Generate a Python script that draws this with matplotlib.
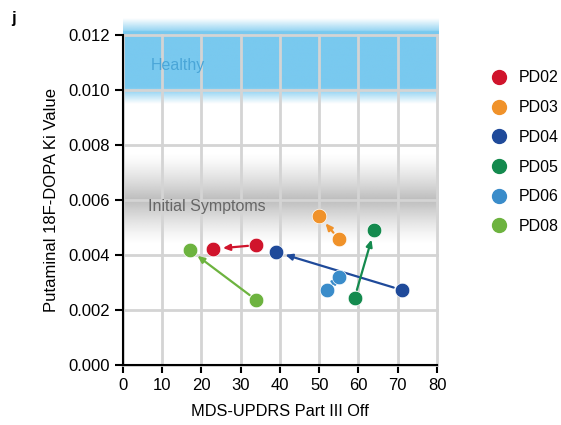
import numpy as np
import matplotlib
matplotlib.use("Agg")
import matplotlib.pyplot as plt
from matplotlib.colors import to_rgb

plt.rcParams['font.family'] = ['Liberation Sans', 'DejaVu Sans']

patients = ["PD02", "PD03", "PD04", "PD05", "PD06", "PD08"]
colors = ["#d0142c", "#f0922a", "#1f4a9a", "#148a4e", "#3a8cca", "#6db33f"]
score_start = [34, 55, 71, 59, 52, 34]
score_end = [23, 50, 39, 64, 55, 17]
ki_start = [0.00436, 0.00458, 0.00273, 0.00244, 0.00273, 0.00236]
ki_end = [0.00422, 0.00542, 0.00411, 0.00490, 0.00320, 0.00418]

xticks = [0, 10, 20, 30, 40, 50, 60, 70, 80]
yticks = [0.000, 0.002, 0.004, 0.006, 0.008, 0.010, 0.012]

fig = plt.figure(figsize=(5.61, 4.25), dpi=100)
ax = fig.add_axes([0.219, 0.141, 0.56, 0.777])
ax.set_xlim(0, 80)
ax.set_ylim(0, 0.012)

def band(y0, y1, color, alpha_profile, zorder):
    n = len(alpha_profile)
    rgb = to_rgb(color)
    img = np.zeros((n, 2, 4))
    img[:, :, 0] = rgb[0]
    img[:, :, 1] = rgb[1]
    img[:, :, 2] = rgb[2]
    img[:, :, 3] = np.array(alpha_profile)[:, None]
    return ax.imshow(img, extent=[0, 80.3, y0, y1], origin='lower', aspect='auto',
                     interpolation='bilinear', zorder=zorder, clip_on=False)

ys = np.linspace(0.0095, 0.01262, 200)
a = np.ones_like(ys)
a = np.where(ys < 0.0101, np.clip((ys - 0.0095) / 0.0006, 0, 1), a)
a = np.where(ys > 0.01215, np.clip((0.01262 - ys) / 0.00047, 0, 1) * 0.8, a)
band(0.0095, 0.01262, "#79c9ef", a, 0)

ys2 = np.linspace(0.0044, 0.0077, 200)
prof = np.where(ys2 < 0.006, ((ys2 - 0.0044) / 0.0016), ((0.0077 - ys2) / 0.0017))
prof = np.clip(prof, 0, 1) ** 1.3 * 0.5
band(0.0044, 0.0077, "#7a7a7a", prof, 0)

ax.set_xticks(xticks)
ax.set_yticks(yticks)
ax.set_xticklabels([str(t) for t in xticks])
ax.set_yticklabels([f"{t:.3f}" for t in yticks])
ax.grid(True, color="#d4d4d4", linewidth=2, zorder=1)
ax.set_axisbelow(False)
for gl in ax.get_xgridlines() + ax.get_ygridlines():
    gl.set_zorder(1)
    gl.set_clip_on(False)

for s in ["top", "right"]:
    ax.spines[s].set_visible(False)
for s in ["left", "bottom"]:
    ax.spines[s].set_linewidth(1.5)
    ax.spines[s].set_zorder(5)
ax.tick_params(direction='out', length=6, width=1.5, labelsize=12, pad=3)

ax.text(7, 0.0109, "Healthy", color="#4aa6d8", fontsize=11.5, va='center', zorder=3)
ax.text(6.5, 0.00575, "Initial Symptoms", color="#666666", fontsize=11.5, va='center', zorder=3)

for p, c, x0, x1, y0, y1 in zip(patients, colors, score_start, score_end, ki_start, ki_end):
    ax.annotate("", xy=(x1, y1), xytext=(x0, y0),
                arrowprops=dict(arrowstyle='-|>,head_length=0.4,head_width=0.18', color=c, lw=1.6,
                                shrinkA=6, shrinkB=7), zorder=4)
    ax.plot([x0, x1], [y0, y1], linestyle='none', marker='o', markersize=10.5,
            color=c, markeredgecolor='white', markeredgewidth=0.5, zorder=6, label=p, clip_on=False)

handles = [plt.Line2D([], [], linestyle='none', marker='o', markersize=10, color=c) for c in colors]
fig.legend(handles, patients, loc='upper left', bbox_to_anchor=(0.85, 0.868),
           frameon=False, fontsize=11.5, handletextpad=0.7, labelspacing=0.92,
           handlelength=1.0)

ax.set_xlabel("MDS-UPDRS Part III Off", fontsize=11.8, labelpad=8)
ax.set_ylabel("Putaminal 18F-DOPA Ki Value", fontsize=12, labelpad=7)

fig.text(0.02, 0.945, "j", fontsize=12, fontweight='bold')

fig.savefig("out.png", dpi=100)
